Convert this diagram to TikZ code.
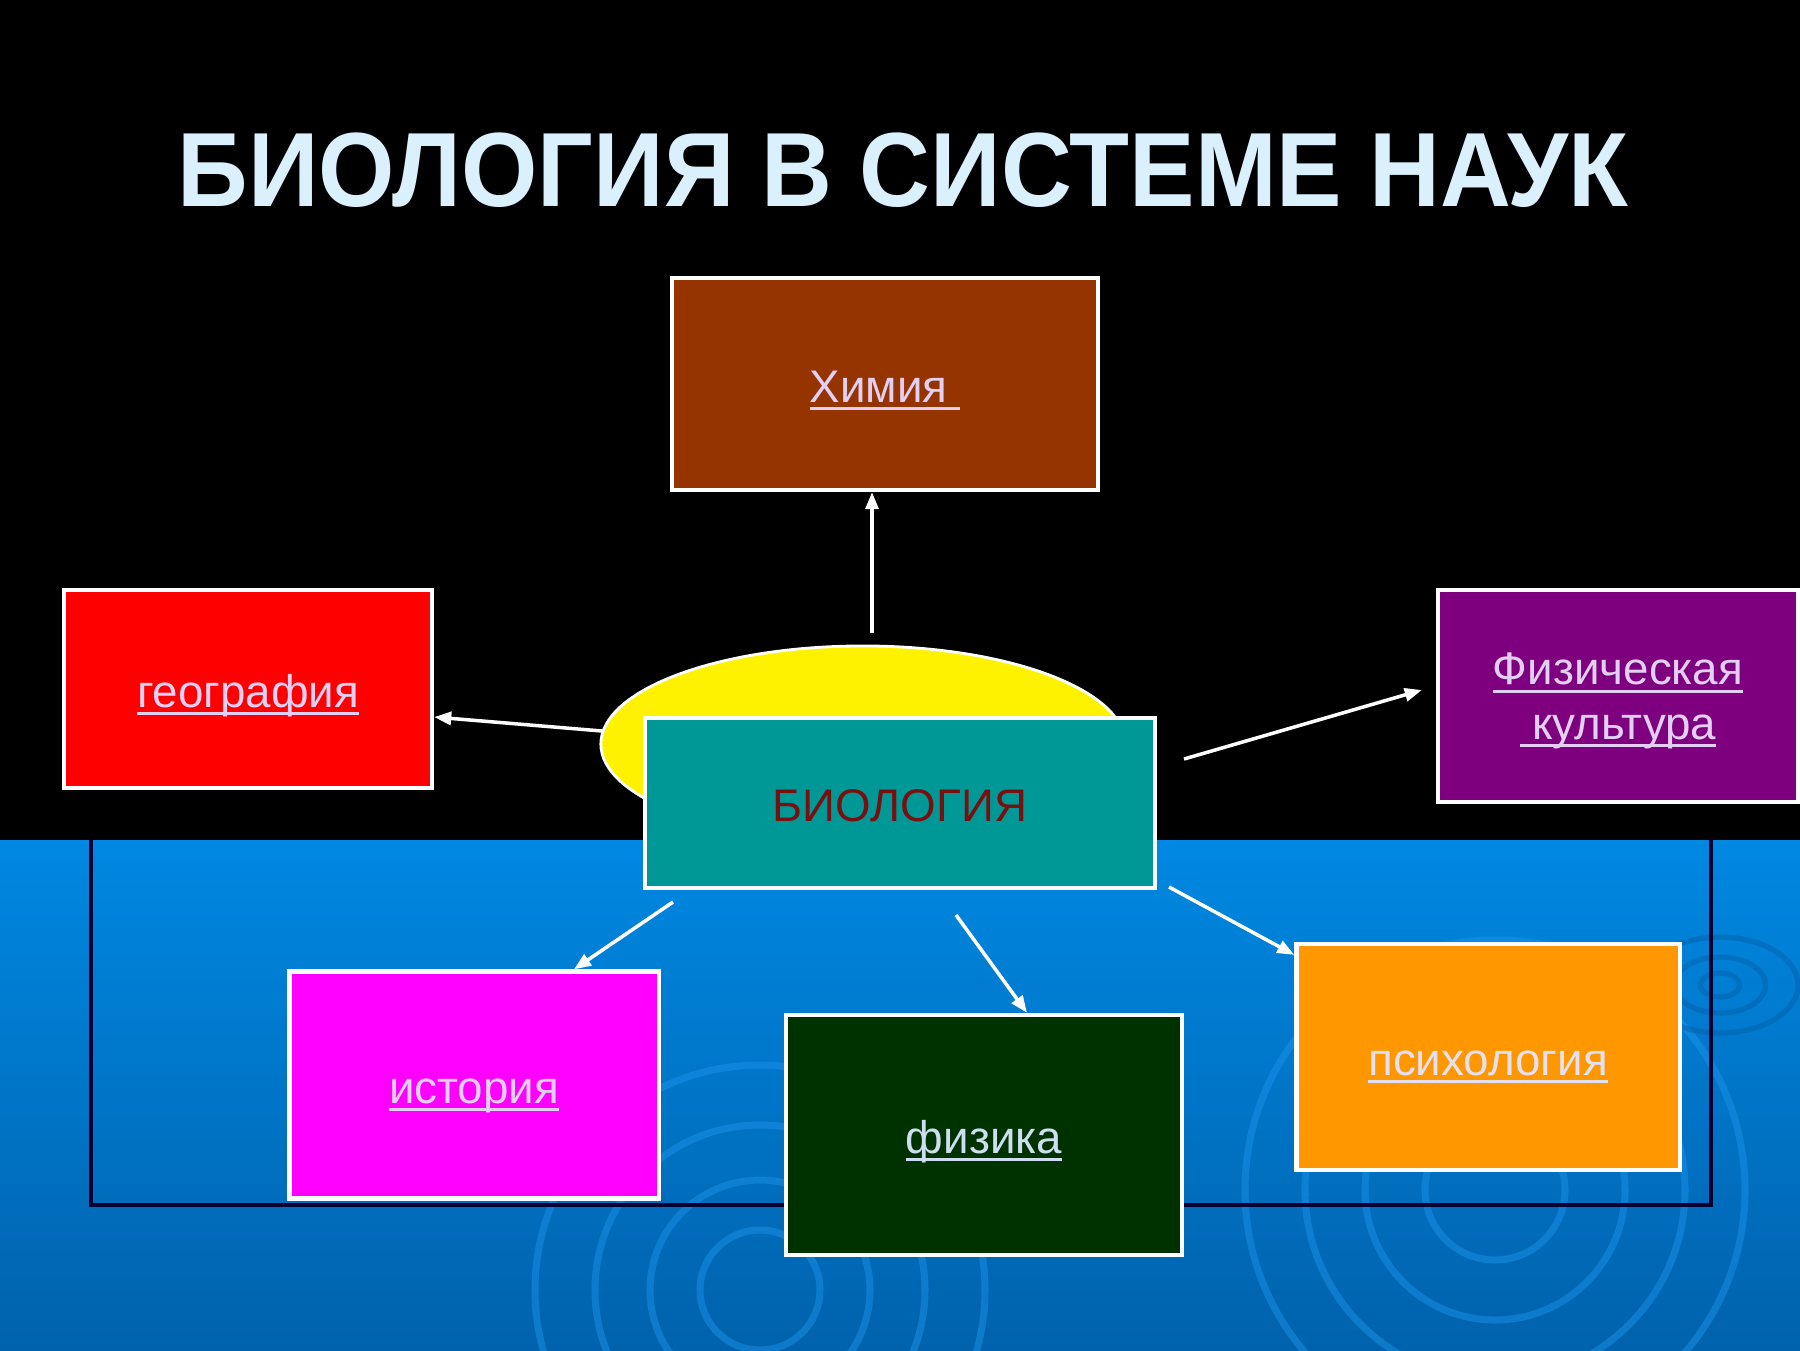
\documentclass[tikz,border=0pt]{standalone}
\usepackage{fontspec}
\setmainfont{Liberation Sans}
\usetikzlibrary{arrows.meta,calc,shapes.geometric}
\definecolor{sky}{RGB}{0,136,226}
\definecolor{deepsky}{RGB}{0,98,172}
\definecolor{ripple}{RGB}{30,150,238}
\definecolor{titlecol}{RGB}{218,240,252}
\definecolor{linkcol}{RGB}{226,208,244}
\definecolor{biotext}{RGB}{120,16,16}
\tikzset{
	box/.style={draw=white, line width=1.2pt, inner sep=0pt, text=linkcol, align=center,
		text height=10.5pt, text depth=0pt, font=\fontsize{13}{15.4}\selectfont},
	link/.style={white, line width=1pt, -{Triangle[length=1.7mm, width=1.3mm]}},
}
\newcommand{\lnk}[1]{\setbox0=\hbox{#1}\leavevmode\rlap{\vrule width\wd0 height-1.3pt depth2.2pt}\box0}
\newcommand{\headline}{\scalebox{.93}[1]{\bfseries БИОЛОГИЯ В СИСТЕМЕ НАУК}}
\begin{document}
\begin{tikzpicture}[x=.01cm, y=-.01cm]
	\fill[black] (0,0) rectangle (1800,840);
	\shade[top color=sky, bottom color=deepsky] (0,840) rectangle (1800,1350);
	\useasboundingbox (0,0) rectangle (1800,1350);
	\foreach \r in {60,110,165,225}
		\draw[ripple, line width=2pt, opacity=.45] (760,1290) circle (\r);
	\foreach \r in {70,130,190,250}
		\draw[ripple, line width=2pt, opacity=.45] (1495,1190) circle (\r);
	\foreach \r in {15,35,60}
		\draw[deepsky, line width=1.5pt, opacity=.5] (1720,985) ellipse ({\r*1.3} and \r*.8);
	\draw[black!80!blue, line width=1.2pt] (91,840) -- (91,1205) -- (1711,1205) -- (1711,840);
	\node (title) [text=titlecol, font=\fontsize{30}{36}\selectfont] at (903,170) {\headline};
	\node (sun) [ellipse, fill=yellow, draw=white, line width=.8pt, minimum width=5.24cm, minimum height=1.96cm] at (863,744) {};
	\node (chem)  [box, fill={rgb,255:red,150;green,52;blue,0},  minimum width=4.25cm, minimum height=2.12cm] at (885,384)  {\lnk{Химия\ }};
	\node (geo)   [box, fill={rgb,255:red,255;green,0;blue,0},   minimum width=3.68cm, minimum height=1.98cm] at (248,689)  {\lnk{география}};
	\node (sport) [box, fill={rgb,255:red,126;green,0;blue,126}, minimum width=3.60cm, minimum height=2.12cm, text height=25.5pt, text depth=1pt] at (1618,696) {\lnk{Физическая}\\\lnk{\ культура}};
	\node (bio)   [box, fill={rgb,255:red,0;green,152;blue,150}, minimum width=5.10cm, minimum height=1.70cm, text=biotext] at (900,803) {БИОЛОГИЯ};
	\node (hist)  [box, fill={rgb,255:red,255;green,0;blue,255}, minimum width=3.69cm, minimum height=2.27cm] at (474,1085) {\lnk{история}};
	\node (phys)  [box, fill={rgb,255:red,0;green,50;blue,0},    minimum width=3.96cm, minimum height=2.40cm, text={rgb,255:red,205;green,222;blue,240}] at (984,1135) {\lnk{физика}};
	\node (psych) [box, fill={rgb,255:red,255;green,152;blue,0}, minimum width=3.83cm, minimum height=2.26cm, text={rgb,255:red,228;green,224;blue,240}] at (1488,1057) {\lnk{психология}};
	\coordinate (up)    at (872,633);
	\coordinate (left)  at (602,731);
	\coordinate (right) at (1184,759);
	\coordinate (dl)    at (673,902);
	\coordinate (dc)    at (956,915);
	\coordinate (dr)    at (1169,887);
	\draw[link] (up)    -- (up |- chem.south);
	\draw[link] (left)  -- ($(geo.east)+(0,28)$);
	\draw[link] (right) -- ($(sport.west)+(-14,-6)$);
	\draw[link] (dl)    -- ($(hist.north)+(100,0)$);
	\draw[link] (dc)    -- ($(phys.north)+(43,0)$);
	\draw[link] (dr)    -- ($(psych.north west)+(0,13)$);
\end{tikzpicture}
\end{document}
